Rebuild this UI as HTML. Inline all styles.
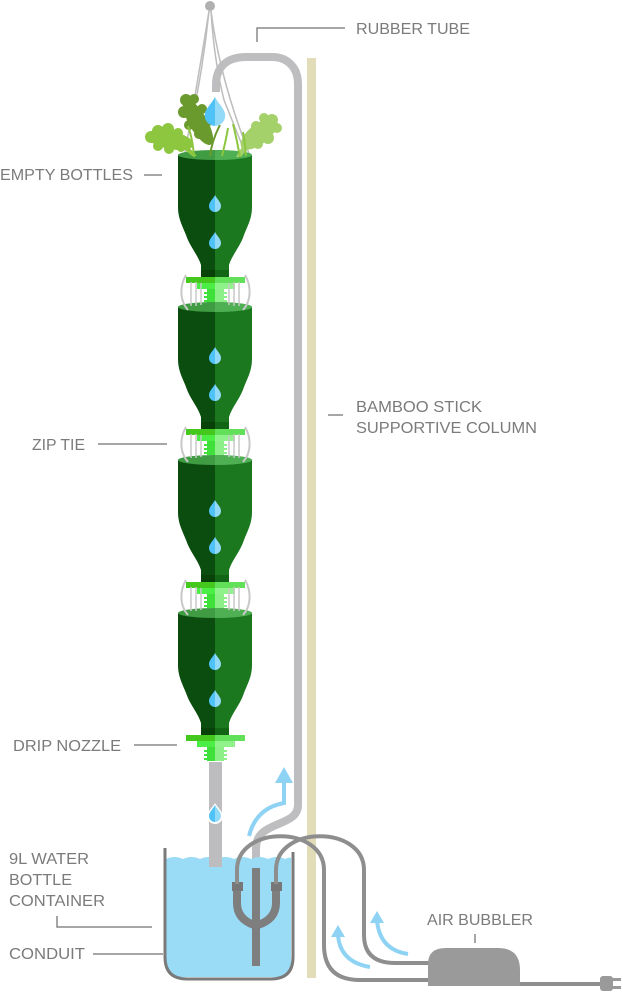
<!DOCTYPE html>
<html>
<head>
<meta charset="utf-8">
<style>
html,body{margin:0;padding:0;background:#fff;}
svg{display:block;}
text{font-family:"Liberation Sans",sans-serif;font-size:15.5px;fill:#7b7b7b;}
</style>
</head>
<body>
<svg width="623" height="993" viewBox="0 0 623 993" xmlns="http://www.w3.org/2000/svg">
<defs>
  <clipPath id="bclip">
    <path d="M178 0 V52 C178 64 183 72 186 80 C190 92 198 100 201 110 V117 H229 V110 C232 100 240 92 244 80 C247 72 252 64 252 52 V0 Z"/>
  </clipPath>
  <g id="bottle">
    <g clip-path="url(#bclip)">
      <rect x="170" y="-5" width="45" height="130" fill="#0b4d0e"/>
      <rect x="215" y="-5" width="45" height="130" fill="#1b781f"/>
    </g>
    <rect x="201" y="115" width="14" height="7" fill="#084209"/>
    <rect x="215" y="115" width="14" height="7" fill="#126515"/>
    <!-- flange -->
    <rect x="186" y="122" width="29" height="6" fill="#44c81d"/>
    <rect x="215" y="122" width="30" height="6" fill="#62e05a"/>
    <!-- block -->
    <rect x="197" y="128" width="18" height="6" fill="#4bee45"/>
    <rect x="215" y="128" width="20" height="6" fill="#8ff28a"/>
    <!-- threads -->
    <rect x="207" y="134" width="8" height="14" fill="#3fe03a"/>
    <rect x="215" y="134" width="9" height="14" fill="#8cef88"/>
    <rect x="204" y="137" width="11" height="2" fill="#3fe03a"/>
    <rect x="215" y="137" width="12" height="2" fill="#8cef88"/>
    <rect x="204" y="141" width="11" height="2" fill="#3fe03a"/>
    <rect x="215" y="141" width="12" height="2" fill="#8cef88"/>
    <rect x="204" y="145" width="11" height="2" fill="#3fe03a"/>
    <rect x="215" y="145" width="12" height="2" fill="#8cef88"/>
  </g>
  <g id="drop">
    <path d="M0 0 C-2 4 -6 7 -6 11 A6 6 0 0 0 0 17 Z" fill="#4fc3f7"/>
    <path d="M0 0 C2 4 6 7 6 11 A6 6 0 0 1 0 17 Z" fill="#93d9f8"/>
  </g>
  <g id="zip" fill="none" stroke="#c8c8c8" stroke-width="2">
    <path d="M186 120 C180 130 179 145 188 155"/>
    <path d="M245 120 C251 130 252 145 243 155"/>
    <path d="M191 127 V151 M196 127 V151 M201 128 V150 M229 128 V150 M234 127 V151 M239 127 V151" stroke-width="1.5"/>
  </g>
  <g id="topell">
    <ellipse cx="215" cy="0" rx="37" ry="5" fill="#3f9c43"/>
    <path d="M215 -5 A37 5 0 0 1 252 0 A37 5 0 0 1 215 5 Z" fill="#4fb053"/>
  </g>
</defs>

<!-- bamboo -->
<rect x="307" y="58" width="9" height="920" fill="#e3dcb8"/>

<!-- rubber tube -->
<path d="M216 92 V85 C216 66 228 57 246 57 H272 C288 57 298 68 298 84 V805 C298 828 256 820 256 848 V872" fill="none" stroke="#bebec0" stroke-width="8"/>

<!-- hanger -->
<g fill="none" stroke="#bdbdbd" stroke-width="1.5">
  <path d="M209 11 Q198 80 184 158"/>
  <path d="M211 11 Q220 80 250 156"/>
  <path d="M211 11 Q214 60 224 100 Q236 130 244 150"/>
  <path d="M209 11 Q203 70 190 130"/>
</g>
<circle cx="210" cy="6" r="5" fill="#b0b0b0"/>

<!-- bottles -->
<use href="#bottle" transform="translate(0,155)"/>
<use href="#bottle" transform="translate(0,307)"/>
<use href="#bottle" transform="translate(0,460)"/>
<use href="#bottle" transform="translate(0,613)"/>

<use href="#topell" transform="translate(0,155)"/>
<use href="#topell" transform="translate(0,307)"/>
<use href="#topell" transform="translate(0,460)"/>
<use href="#topell" transform="translate(0,613)"/>

<!-- re-draw threads over lower ellipses -->
<g>
  <rect x="207" y="289" width="8" height="12" fill="#3fe03a"/><rect x="215" y="289" width="9" height="12" fill="#8cef88"/>
  <rect x="207" y="441" width="8" height="12" fill="#3fe03a"/><rect x="215" y="441" width="9" height="12" fill="#8cef88"/>
  <rect x="207" y="594" width="8" height="12" fill="#3fe03a"/><rect x="215" y="594" width="9" height="12" fill="#8cef88"/>
</g>

<use href="#zip" transform="translate(0,155)"/>
<use href="#zip" transform="translate(0,307)"/>
<use href="#zip" transform="translate(0,460)"/>

<!-- drops in bottles -->
<use href="#drop" transform="translate(215,195)"/>
<use href="#drop" transform="translate(215,232)"/>
<use href="#drop" transform="translate(215,347)"/>
<use href="#drop" transform="translate(215,384)"/>
<use href="#drop" transform="translate(215,500)"/>
<use href="#drop" transform="translate(215,537)"/>
<use href="#drop" transform="translate(215,653)"/>
<use href="#drop" transform="translate(215,690)"/>

<!-- plant -->
<g>
  <!-- left leaf -->
  <g fill="#8dc63f">
    <ellipse cx="170" cy="140" rx="24" ry="9" transform="rotate(12 170 140)"/>
    <circle cx="151" cy="137" r="6"/>
    <circle cx="158" cy="131" r="6"/>
    <circle cx="168" cy="129" r="6"/>
    <circle cx="178" cy="133" r="5"/>
    <circle cx="158" cy="146" r="5"/>
    <circle cx="169" cy="149" r="5"/>
    <circle cx="181" cy="148" r="4"/>
    <path d="M184 142 L197 156 L192 156 L180 146 Z"/>
  </g>
  <!-- dark leaf -->
  <g fill="#6a9a2e">
    <ellipse cx="198" cy="122" rx="9" ry="26" transform="rotate(-30 198 122)"/>
    <circle cx="186" cy="100" r="6"/>
    <circle cx="194" cy="99" r="5"/>
    <circle cx="184" cy="112" r="6"/>
    <circle cx="202" cy="109" r="5"/>
    <circle cx="189" cy="125" r="5"/>
    <circle cx="207" cy="122" r="5"/>
    <circle cx="199" cy="134" r="5"/>
  </g>
  <!-- right leaf -->
  <g fill="#a5d16a">
    <ellipse cx="259" cy="134" rx="22" ry="10" transform="rotate(-38 259 134)"/>
    <circle cx="272" cy="120" r="6"/>
    <circle cx="277" cy="128" r="5"/>
    <circle cx="264" cy="118" r="5"/>
    <circle cx="268" cy="138" r="6"/>
    <circle cx="256" cy="126" r="5"/>
    <circle cx="258" cy="144" r="5"/>
    <circle cx="248" cy="138" r="5"/>
    <path d="M246 140 L236 157 L241 157 L251 144 Z"/>
  </g>
  <g fill="none" stroke="#8cc63f" stroke-width="2">
    <path d="M194 157 Q193 140 188 126"/>
    <path d="M222 156 Q226 140 228 128"/>
    <path d="M240 157 Q237 140 233 124"/>
    <path d="M246 156 Q245 142 243 132"/>
  </g>
  <path d="M210 156 Q212 140 220 125" fill="none" stroke="#6a9a2e" stroke-width="2"/>
</g>
<use href="#drop" transform="translate(215,97) scale(1.7)"/>

<!-- container water -->
<path d="M166 859 q8.5 -4 17 0 q8.5 -4 17 0 q8.5 -4 17 0 q8.5 -4 17 0 q8.5 -4 17 0 q8.5 -4 17 0 q8.5 -4 17 0 q4 -2 6 -1 V960 Q292 977 275 977 H183 Q166 977 166 960 Z" fill="#9adcf6"/>

<!-- drip tube -->
<rect x="209" y="762" width="13" height="105" fill="#bdbdbf"/>
<g transform="translate(215,805)">
  <path d="M0 -2 C-3 3 -8 7 -8 11 A8 8 0 0 0 8 11 C8 7 3 3 0 -2 Z" fill="#fff"/>
  <use href="#drop"/>
</g>

<!-- container wall -->
<path d="M165 848 V957 Q165 979 187 979 H271 Q293 979 293 957 V852" fill="none" stroke="#7a7a7a" stroke-width="3"/>

<!-- conduit Y -->
<g fill="none" stroke="#7e7e7e" stroke-width="8">
  <path d="M256 868 V966"/>
  <path d="M237 886 V903 Q237 919 254 925"/>
  <path d="M276 886 V903 Q276 919 258 925"/>
</g>
<rect x="232" y="882" width="11" height="9" fill="#777"/>
<rect x="271" y="882" width="11" height="9" fill="#777"/>

<!-- hoses -->
<g fill="none" stroke="#8e8e8e" stroke-width="4">
  <path d="M237 884 V870 C237 825 324 825 324 870 V945 Q324 980 360 980 H430"/>
  <path d="M276 884 V870 C276 825 364 825 364 870 V935 Q364 963 395 963 H430"/>
  <path d="M515 984 H602"/>
</g>

<!-- bubbler -->
<path d="M428 986 V964 Q428 948 446 948 H498 Q520 948 520 970 V986 Z" fill="#9a9a9a"/>
<rect x="600" y="976" width="13" height="15" rx="3" fill="#9a9a9a"/>
<rect x="612" y="978" width="9" height="3" fill="#9a9a9a"/>
<rect x="612" y="986" width="9" height="3" fill="#9a9a9a"/>

<!-- blue arrows -->
<g fill="none" stroke="#8fd3f4" stroke-width="4">
  <path d="M249 836 Q256 808 284 803 V780"/>
  <path d="M370 967 Q340 962 338 935"/>
  <path d="M408 954 Q380 950 377 921"/>
</g>
<g fill="#8fd3f4">
  <path d="M275 783 L284 767 L293 783 Z"/>
  <path d="M331 937 L338 925 L345 937 Z"/>
  <path d="M370 923 L377 911 L384 923 Z"/>
</g>

<!-- leader lines -->
<g fill="none" stroke="#888" stroke-width="1.5">
  <path d="M257 42 V28 H345"/>
  <path d="M144 175 H162"/>
  <path d="M98 444 H167"/>
  <path d="M328 415 H343"/>
  <path d="M134 745 H177"/>
  <path d="M57 916 V927 H152"/>
  <path d="M93 954 H163"/>
  <path d="M475 934 V943"/>
</g>

<!-- labels -->
<text x="356" y="34" textLength="114" lengthAdjust="spacingAndGlyphs">RUBBER TUBE</text>
<text x="0" y="180" textLength="133" lengthAdjust="spacingAndGlyphs">EMPTY BOTTLES</text>
<text x="32" y="450" textLength="53" lengthAdjust="spacingAndGlyphs">ZIP TIE</text>
<text x="356" y="412" textLength="126" lengthAdjust="spacingAndGlyphs">BAMBOO STICK</text>
<text x="356" y="433" textLength="181" lengthAdjust="spacingAndGlyphs">SUPPORTIVE COLUMN</text>
<text x="13" y="751" textLength="108" lengthAdjust="spacingAndGlyphs">DRIP NOZZLE</text>
<text x="9" y="864" textLength="80" lengthAdjust="spacingAndGlyphs">9L WATER</text>
<text x="9" y="885" textLength="63" lengthAdjust="spacingAndGlyphs">BOTTLE</text>
<text x="9" y="906" textLength="96" lengthAdjust="spacingAndGlyphs">CONTAINER</text>
<text x="9" y="959" textLength="76" lengthAdjust="spacingAndGlyphs">CONDUIT</text>
<text x="427" y="925" textLength="106" lengthAdjust="spacingAndGlyphs">AIR BUBBLER</text>
</svg>
</body>
</html>
